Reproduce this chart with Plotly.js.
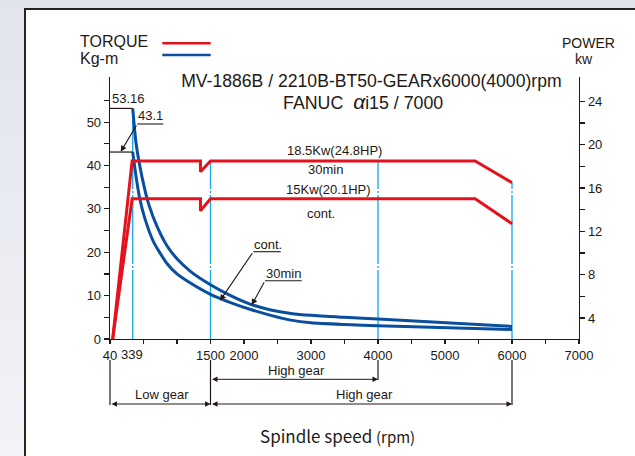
<!DOCTYPE html>
<html>
<head>
<meta charset="utf-8">
<script src="https://cdn.plot.ly/plotly-3.0.1.min.js"></script>
<style>
  html, body { margin: 0; padding: 0; }
  #bg { position: absolute; left: 0; top: 0; width: 635px; height: 456px; overflow: hidden;
        background: linear-gradient(#e1e4ed, #f2f3f7); }
  #frame { position: absolute; left: 24px; top: 8px; width: 700px; height: 520px; background: #ffffff;
           border-left: 2.5px solid #2a2220; border-top: 2.5px solid #2a2220; }
  #chart { position: absolute; left: 0; top: 0; width: 635px; height: 456px; }
</style>
</head>
<body>
<div id="bg"><div id="frame"></div></div>
<div id="chart"></div>
<script>
// ---------------- data ----------------
const rpmTicks   = [0, 500, 1000, 1500, 2000, 2500, 3000, 3500, 4000, 4500, 5000, 5500, 6000, 6500, 7000];
const rpmLabels  = ['40', '', '', '1500', '2000', '', '3000', '', '4000', '', '5000', '', '6000', '', '7000'];
const torqueTicks  = [0, 5, 10, 15, 20, 25, 30, 35, 40, 45, 50, 55];
const torqueLabels = ['0', '', '10', '', '20', '', '30', '', '40', '', '50', ''];
const powerTicks  = [4, 6, 8, 10, 12, 14, 16, 18, 20, 22, 24];
const powerLabels = ['4', '', '8', '', '12', '', '16', '', '20', '', '24'];

// power curves (kW, right axis)
const rpmPower  = [40, 330, 1350, 1350, 1500, 5450, 6000];
const power30   = [2.06, 18.5, 18.5, 17.5, 18.5, 18.5, 16.5];
const powerCont = [2.06, 15.0, 15.0, 13.9, 15.0, 15.0, 12.7];

// torque curves (kg-m, left axis)
const rpm30      = [339, 390, 476, 575, 700, 850, 1000, 1200, 1500, 1800, 2100, 2400, 2700, 3000, 3500, 4000, 6000];
const torque30   = [53.16, 45.0, 37.5, 31.2, 26.0, 21.5, 18.5, 15.6, 12.5, 10.0, 8.0, 6.7, 5.9, 5.45, 5.0, 4.6, 2.9];
const rpmCont    = [339, 392, 441, 520, 650, 850, 1000, 1200, 1500, 1800, 2100, 2400, 2700, 3000, 3500, 4000, 6000];
const torqueCont = [43.1, 37.1, 32.6, 27.8, 22.4, 17.4, 15.0, 12.9, 10.3, 8.4, 6.8, 5.45, 4.35, 3.75, 3.35, 3.06, 2.2];

// reference speeds / values
const baseRpm = 339;
const peakTorque30 = 53.16, peakTorqueCont = 43.1;
const guideRpm = [1500, 4000, 6000];
const guidePower = [18.5, 18.5, 16.5];
const gearLow = [40, 1500], gearHighA = [1500, 4000], gearHighB = [1500, 6000];

// ---------------- layout helpers ----------------
const W = 635, H = 456, M = {l: 110, r: 56, t: 77, b: 117};
const PW = W - M.l - M.r, PH = H - M.t - M.b;
const xRange = [0, 7000], yRange = [0, 60.4], y2Range = [2.06, 26.25];
const X = px => (px - M.l) / PW;          // page px -> paper x
const Y = py => (M.t + PH - py) / PH;     // page py -> paper y
const fx = v => (v - xRange[0]) / (xRange[1] - xRange[0]);   // rpm -> paper x

const INK = '#231815', RED = '#e5121d', NAVY = '#0a4f9f', SKY = '#18a5e4';
const FONT = 'Liberation Sans, Arial, Helvetica, sans-serif';

const traces = [
  {x: rpmPower, y: power30, yaxis: 'y2', mode: 'lines', line: {color: RED, width: 3}, name: '30min power'},
  {x: rpmPower, y: powerCont, yaxis: 'y2', mode: 'lines', line: {color: RED, width: 3}, name: 'cont. power'},
  {x: rpm30, y: torque30, mode: 'lines', line: {color: NAVY, width: 3, shape: 'spline', smoothing: 0.6}, name: '30min torque'},
  {x: rpmCont, y: torqueCont, mode: 'lines', line: {color: NAVY, width: 3, shape: 'spline', smoothing: 0.6}, name: 'cont. torque'}
];

const dashSky = '69px,2px,2px,2px';
const shapes = [];
// sky-blue guide lines
shapes.push({type: 'line', xref: 'x', yref: 'y', x0: baseRpm, x1: baseRpm, y0: 0, y1: peakTorque30,
             line: {color: SKY, width: 1.3, dash: dashSky}, layer: 'below'});
guideRpm.forEach((r, i) => shapes.push({type: 'line', xref: 'x', yref: 'y2', x0: r, x1: r, y0: y2Range[0], y1: guidePower[i],
             line: {color: SKY, width: 1.3, dash: dashSky}, layer: 'below'}));
// level lines for peak torques
[peakTorque30, peakTorqueCont].forEach(v => shapes.push({type: 'line', xref: 'x', yref: 'y', x0: 0, x1: baseRpm, y0: v, y1: v,
             line: {color: INK, width: 1.2}}));
// underlines of leader labels (page px)
[[137.3, 163.3, 124], [253.3, 280.7, 251.7], [265, 301.7, 280.7]].forEach(s => shapes.push({
  type: 'line', xref: 'paper', yref: 'paper', x0: X(s[0]), x1: X(s[1]), y0: Y(s[2]), y1: Y(s[2]), line: {color: INK, width: 1.1}}));
// gear extension lines below the axis
[[gearLow[0] - 40, 405], [1500, 405], [4000, 380], [6000, 405]].forEach(s => shapes.push({
  type: 'line', xref: 'paper', yref: 'paper', x0: fx(s[0]), x1: fx(s[0]), y0: Y(360), y1: Y(s[1]), line: {color: INK, width: 1.2}}));
// legend sample lines
shapes.push({type: 'line', xref: 'paper', yref: 'paper', x0: X(162.3), x1: X(210.7), y0: Y(43.3), y1: Y(43.3), line: {color: RED, width: 2.6}});
shapes.push({type: 'line', xref: 'paper', yref: 'paper', x0: X(162.3), x1: X(210.7), y0: Y(55), y1: Y(55), line: {color: NAVY, width: 2.6}});

const ann = [];
function txt(text, px, py, size, opts) {
  ann.push(Object.assign({text: text, xref: 'paper', yref: 'paper', x: X(px), y: Y(py), showarrow: false,
    xanchor: 'center', yanchor: 'middle', font: {family: FONT, size: size, color: INK}}, opts || {}));
}
txt('TORQUE', 78, 41, 16, {xanchor: 'left'});
txt('Kg-m', 77.5, 58.5, 16, {xanchor: 'left'});
txt('POWER', 588, 43.5, 14);
txt('kw', 584, 59, 14);
txt('FANUC&nbsp;&nbsp;<span style="font-size:21px"><i>α</i></span>i15 / 7000', 363, 101.5, 17.8);
txt('53.16', 128.3, 98.3, 13);
txt('43.1', 150.8, 115.5, 13);
txt('18.5Kw(24.8HP)', 334, 150, 13);
txt('30min', 325, 169.3, 13);
txt('15Kw(20.1HP)', 328, 189, 13);
txt('cont.', 321, 213.3, 13);
txt('cont.', 267.5, 244, 13);
txt('30min', 283.3, 273.3, 13);
txt('339', 132.3, 354, 13);
txt('High gear', 296, 370.5, 13);
txt('Low gear', 161.7, 394.3, 13);
txt('High gear', 364, 394.3, 13);
txt('Spindle speed <span style="font-size:15px">(rpm)</span>', 337.5, 435, 17,
    {font: {family: 'Noto Sans CJK JP, DejaVu Sans, sans-serif', size: 17, color: INK}});

// leader arrows (page px tail -> head)
function arrowPx(tx, ty, hx, hy) {
  ann.push({xref: 'paper', yref: 'paper', x: X(hx), y: Y(hy), axref: 'pixel', ayref: 'pixel',
    ax: tx - hx, ay: ty - hy, text: '', showarrow: true, arrowhead: 2, arrowsize: 1.1, arrowwidth: 1.1,
    arrowcolor: INK, standoff: 0});
}
arrowPx(137.3, 124, 120.7, 151.7);
arrowPx(253.3, 251.7, 220, 300.7);
arrowPx(265, 280.7, 251.7, 305);
// dimension arrows
function dim(a, b, py) {
  ann.push({xref: 'x', yref: 'paper', x: b, y: Y(py), axref: 'x', ax: a, ayref: 'pixel', ay: 0,
    text: '', showarrow: true, arrowhead: 2, arrowside: 'end+start', arrowsize: 1.1, arrowwidth: 1,
    arrowcolor: INK, standoff: 0, startstandoff: 0});
}
dim(gearHighA[0], gearHighA[1], 379.3);
dim(gearLow[0] - 40, gearLow[1], 404);
dim(gearHighB[0], gearHighB[1], 404);

const axisCommon = {ticks: 'outside', tickcolor: INK, tickwidth: 1.2, showline: true, linecolor: INK, linewidth: 1.3,
  showgrid: false, zeroline: false, tickfont: {family: FONT, size: 13, color: INK}, fixedrange: true};

const layout = {
  width: W, height: H, margin: M, showlegend: false,
  paper_bgcolor: 'rgba(0,0,0,0)', plot_bgcolor: 'rgba(0,0,0,0)',
  title: {text: 'MV-1886B / 2210B-BT50-GEARx6000(4000)rpm', font: {family: FONT, size: 17.6, color: INK},
          xref: 'container', x: 371.4 / W, xanchor: 'center', yref: 'container', y: 1 - 80.5 / H, yanchor: 'middle'},
  xaxis: Object.assign({}, axisCommon, {range: xRange, tickmode: 'array', tickvals: rpmTicks, ticktext: rpmLabels,
          ticklen: 4, tickangle: 0}),
  yaxis: Object.assign({}, axisCommon, {range: yRange, tickmode: 'array', tickvals: torqueTicks, ticktext: torqueLabels,
          ticklen: 5}),
  yaxis2: Object.assign({}, axisCommon, {range: y2Range, overlaying: 'y', side: 'right', tickmode: 'array',
          tickvals: powerTicks, ticktext: powerLabels, ticklen: 5}),
  shapes: shapes,
  annotations: ann
};

Plotly.newPlot('chart', traces, layout, {staticPlot: true, displayModeBar: false});
</script>
</body>
</html>
